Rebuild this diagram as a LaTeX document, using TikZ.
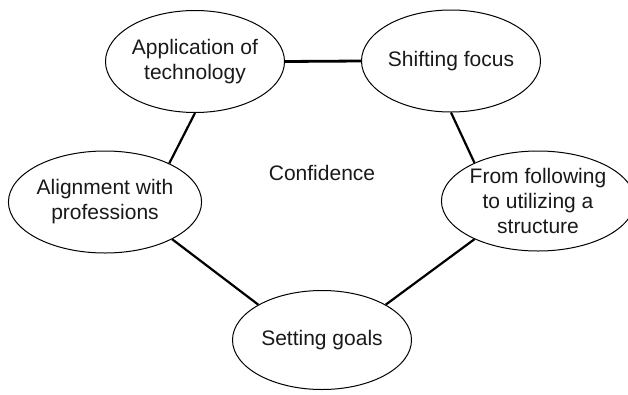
\documentclass[tikz,border=0pt]{standalone}
\usepackage{fontspec}
\setmainfont{Liberation Sans}
\usetikzlibrary{shapes.geometric}
\begin{document}
\begin{tikzpicture}[x=1pt,y=-1pt,
  bubble/.style={ellipse,draw=black,line width=1pt,minimum width=179pt,minimum height=102pt,inner sep=0pt,align=center,font=\fontsize{21}{25}\selectfont,text=black!90},
  conn/.style={draw=black,line width=2.2pt},
  lbl/.style={font=\fontsize{21}{25}\selectfont,text=black!90}]
\useasboundingbox (0,0) rectangle (628,394);
\node[bubble] (app) at (195,61.5) {Application of\\technology};
\node[bubble] (shift) at (451,61) {Shifting focus};
\node[bubble] (align) at (105,202) {Alignment with\\professions};
\node[bubble,minimum width=177pt,minimum height=100pt] (from) at (538,201) {From following\\to utilizing a\\structure};
\node[bubble,minimum height=99pt] (goal) at (322,340) {Setting goals};
\node[lbl] (conf) at (322,173) {Confidence};
\draw[conn,line width=2.8pt] (app.east) -- (shift.west);
\draw[conn] (app.-90) -- (align.31);
\draw[conn] (shift.-90) -- (from.149);
\draw[conn] (align.-29) -- (goal.151);
\draw[conn] (from.-149) -- (goal.29);
\end{tikzpicture}
\end{document}
